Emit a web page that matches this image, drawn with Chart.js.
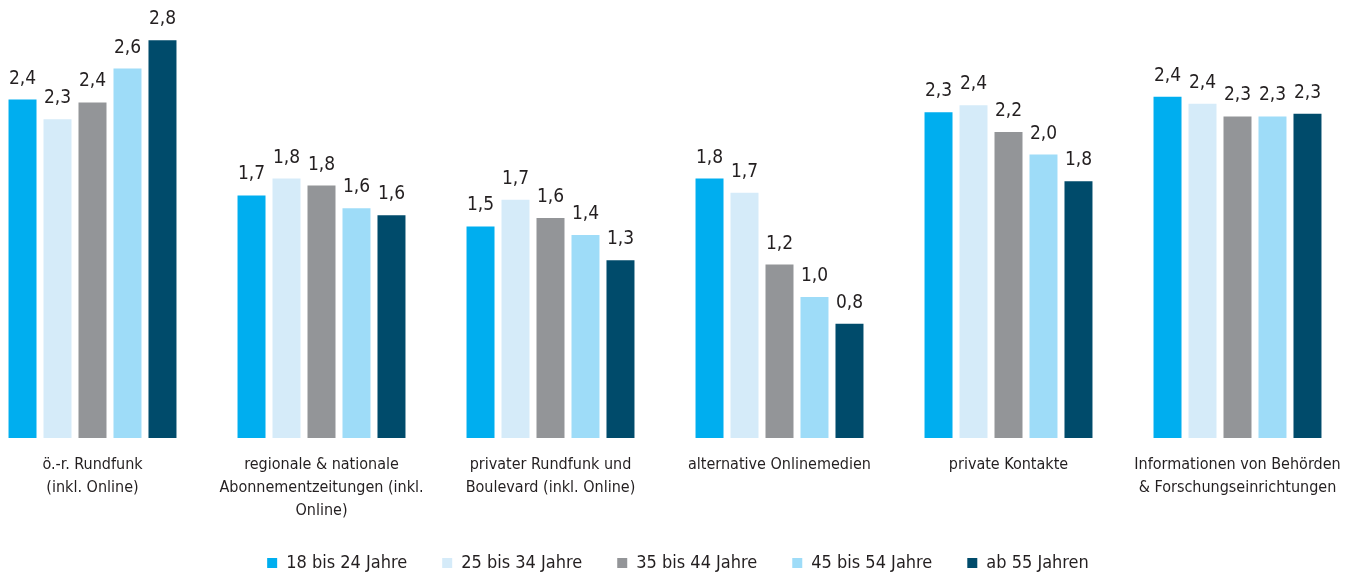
<!DOCTYPE html>
<html>
<head>
<meta charset="utf-8">
<script src="https://cdn.jsdelivr.net/npm/chart.js@4.4.1/dist/chart.umd.min.js"></script>
<style>
    html, body { margin: 0; padding: 0; background: #fff; overflow: hidden; }
    #wrap { position: absolute; left: -22px; top: 0; width: 1374px; height: 582px; }
</style>
</head>
<body>
<div id="wrap"><canvas id="chart"></canvas></div>
<script>
// --- DATOS ---
const categories = [
    ['ö.-r. Rundfunk', '(inkl. Online)'],
    ['regionale & nationale', 'Abonnementzeitungen (inkl.', 'Online)'],
    ['privater Rundfunk und', 'Boulevard (inkl. Online)'],
    'alternative Onlinemedien',
    'private Kontakte',
    ['Informationen von Behörden', '& Forschungseinrichtungen']
];
const seriesNames = ['18 bis 24 Jahre', '25 bis 34 Jahre', '35 bis 44 Jahre', '45 bis 54 Jahre', 'ab 55 Jahren'];
const age18to24 = [2.40, 1.72, 1.50, 1.84, 2.31, 2.42];
const age25to34 = [2.26, 1.84, 1.69, 1.74, 2.36, 2.37];
const age35to44 = [2.38, 1.79, 1.56, 1.23, 2.17, 2.28];
const age45to54 = [2.62, 1.63, 1.44, 1.00, 2.01, 2.28];
const age55plus = [2.82, 1.58, 1.26, 0.81, 1.82, 2.30];

const colors = ['#00aeef', '#d5ebf9', '#939598', '#9edcf8', '#004b6b'];
const FONT = "'Liberation Sans Narrow', 'DejaVu Sans Condensed', sans-serif";

// Etiquetas de valor encima de cada barra
const valueLabels = {
    id: 'valueLabels',
    afterLayout(chart) {
        // la leyenda está algo desplazada a la derecha en el original
        chart.legend.left += 13;
        chart.legend.right += 13;
    },
    afterDatasetsDraw(chart) {
        const ctx = chart.ctx;
        ctx.save();
        ctx.font = '19px ' + FONT;
        ctx.fillStyle = '#231f20';
        ctx.textAlign = 'center';
        ctx.textBaseline = 'alphabetic';
        chart.data.datasets.forEach((ds, i) => {
            chart.getDatasetMeta(i).data.forEach((bar, j) => {
                const txt = ds.data[j].toFixed(1).replace('.', ',');
                ctx.fillText(txt, bar.x, bar.y - 16);
            });
        });
        ctx.restore();
    }
};

const allSeries = [age18to24, age25to34, age35to44, age45to54, age55plus];

new Chart(document.getElementById('chart'), {
    type: 'bar',
    data: {
        labels: categories,
        datasets: allSeries.map((d, i) => ({
            label: seriesNames[i],
            data: d,
            backgroundColor: colors[i],
            barPercentage: 0.8,
            categoryPercentage: 0.764
        }))
    },
    options: {
        responsive: true,
        maintainAspectRatio: false,
        animation: false,
        layout: { padding: 0 },
        scales: {
            x: {
                grid: { display: false },
                border: { display: false },
                ticks: {
                    color: '#231f20',
                    font: { family: FONT, size: 16, lineHeight: 1.45 },
                    maxRotation: 0,
                    autoSkip: false,
                    padding: 7
                },
                afterFit(scale) {
                    scale.height = 81;
                }
            },
            y: { display: false, min: 0, max: 3.106 }
        },
        plugins: {
            legend: {
                position: 'bottom',
                labels: {
                    boxWidth: 10,
                    boxHeight: 10,
                    padding: 35,
                    color: '#231f20',
                    font: { family: FONT, size: 18 }
                }
            },
            tooltip: { enabled: false }
        }
    },
    plugins: [valueLabels]
});
</script>
</body>
</html>
